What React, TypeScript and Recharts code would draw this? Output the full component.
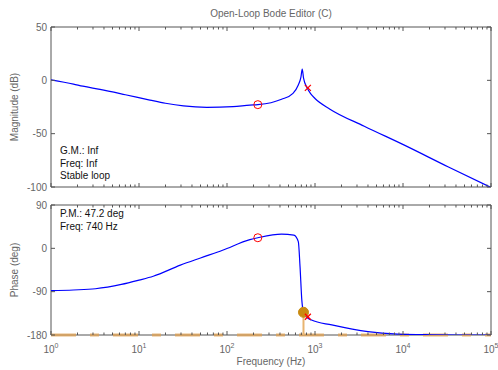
import React from "react"
import { LineChart, Line, XAxis, YAxis, ReferenceDot, ReferenceLine, ReferenceArea } from "recharts"

// magnitude curve (Hz, dB)
const magFreqs = [1, 1.8, 2.3, 3.6, 7, 13.3, 20, 32, 59, 117, 182, 224, 316, 417, 562, 646, 692, 716, 741, 813, 891, 1000, 1480, 3630, 10500, 32400, 100000]
const magDb = [0.5, -3.5, -5.5, -8.5, -13.5, -18.5, -21.5, -24, -25.3, -24.7, -23.2, -22.8, -21, -17.8, -12.2, -4.4, 3, 10.6, 2, -7, -12.5, -17, -27, -43, -61, -81, -100.5]

// phase curve (Hz, deg)
const phaseFreqs = [1, 1.8, 3.2, 6.3, 10, 14.5, 29.5, 50, 89, 182, 224, 417, 575, 646, 676, 708, 740, 794, 912, 1550, 4000, 8700, 21000, 45700, 100000]
const phaseDeg = [-88, -86.5, -84, -75, -66, -58, -35, -20, -4, 18, 22, 29.7, 27.6, 14, -38, -107, -132.8, -142, -149, -159, -173, -178, -179.5, -180, -180]

// compensator zero / pole markers
const zeroMark = { freq: 224, mag: -22.8, phase: 22 }
const poleMark = { freq: 830, mag: -7, phase: -142 }
// phase margin marker
const pmMark = { freq: 740, phase: -132.8 }

const freqTicks = [1, 10, 100, 1000, 10000, 100000]
const minorTicks = freqTicks.slice(0, -1).flatMap((d) => [2, 3, 4, 5, 6, 7, 8, 9].map((m) => d * m))
const allFreqTicks = [...freqTicks, ...minorTicks].sort((a, b) => a - b)
const magTicks = [-100, -50, 0, 50]
const phaseTicks = [-180, -90, 0, 90]

const magData = magFreqs.map((f, i) => ({ f, v: magDb[i] }))
const phaseData = phaseFreqs.map((f, i) => ({ f, v: phaseDeg[i] }))

const W = 498
const H = 370
const L = 51
const R = 491
const FONT = "'Liberation Sans', Arial, sans-serif"
const AX = "#555"
const GRAY = "#666"

const makeXTick = (top: number, bottom: number, labels: boolean) => (props: any) => {
  const { x, payload } = props
  const v = payload.value
  const exp = Math.round(Math.log10(v))
  const major = Math.abs(Math.pow(10, exp) - v) < 1e-6
  const len = major ? 4 : 2.5
  return (
    <g>
      <line x1={x} x2={x} y1={bottom} y2={bottom - len} stroke={AX} />
      <line x1={x} x2={x} y1={top} y2={top + len} stroke={AX} />
      {labels && major && (
        <text x={x} y={bottom + 18} textAnchor="middle" fontSize={10} fill={GRAY} fontFamily={FONT}>
          10<tspan dy={-5} fontSize={7}>{exp}</tspan>
        </text>
      )}
    </g>
  )
}

const yTick = (props: any) => {
  const { y, payload } = props
  return (
    <g>
      <line x1={L} x2={L + 4} y1={y} y2={y} stroke={AX} />
      <line x1={R} x2={R - 4} y1={y} y2={y} stroke={AX} />
      <text x={L - 4} y={y + 3.5} textAnchor="end" fontSize={10} fill={GRAY} fontFamily={FONT}>
        {payload.value}
      </text>
    </g>
  )
}

const circleShape = (p: any) => <circle cx={p.cx} cy={p.cy} r={4} fill="none" stroke="#ff0000" strokeWidth={1} />
const crossShape = (p: any) => (
  <g stroke="#ff0000" strokeWidth={1.2}>
    <line x1={p.cx - 3} y1={p.cy - 3} x2={p.cx + 3} y2={p.cy + 3} />
    <line x1={p.cx - 3} y1={p.cy + 3} x2={p.cx + 3} y2={p.cy - 3} />
  </g>
)

export default function App() {
  const magTop = 27
  const magBottom = 187
  const phTop = 205
  const phBottom = 335
  return (
    <div style={{ position: "absolute", left: 0, top: 0, width: W, height: H, background: "#fff" }}>
      <div style={{ position: "absolute", left: 0, top: 0 }}>
        <LineChart width={W} height={H} data={magData} margin={{ top: magTop, right: W - R, bottom: H - magBottom - 10, left: L - 10 }}>
          <XAxis dataKey="f" type="number" scale="log" domain={[1, 100000]} allowDataOverflow ticks={allFreqTicks} interval={0}
            height={10} tickSize={0} tickMargin={0} tickLine={false} axisLine={false} tick={makeXTick(magTop, magBottom, false)} />
          <YAxis type="number" domain={[-100, 50]} ticks={magTicks} interval={0} allowDataOverflow width={10} tickSize={0} tickMargin={0}
            tickLine={false} axisLine={false} tick={yTick} />
          <ReferenceArea x1={1} x2={100000} y1={-100} y2={50} fill="none" stroke={AX} strokeWidth={1} />
          <Line type="monotone" dataKey="v" stroke="#0000ff" strokeWidth={1.2} dot={false} isAnimationActive={false} />
          <ReferenceDot x={zeroMark.freq} y={zeroMark.mag} shape={circleShape} />
          <ReferenceDot x={poleMark.freq} y={poleMark.mag} shape={crossShape} />
        </LineChart>
      </div>
      <div style={{ position: "absolute", left: 0, top: 0 }}>
        <LineChart width={W} height={H} data={phaseData} margin={{ top: phTop, right: W - R, bottom: H - phBottom - 10, left: L - 10 }}>
          <XAxis dataKey="f" type="number" scale="log" domain={[1, 100000]} allowDataOverflow ticks={allFreqTicks} interval={0}
            height={10} tickSize={0} tickMargin={0} tickLine={false} axisLine={false} tick={makeXTick(phTop, phBottom, true)} />
          <YAxis type="number" domain={[-180, 90]} ticks={phaseTicks} interval={0} allowDataOverflow width={10} tickSize={0} tickMargin={0}
            tickLine={false} axisLine={false} tick={yTick} />
          <ReferenceArea x1={1} x2={100000} y1={-180} y2={90} fill="none" stroke={AX} strokeWidth={1} />
          <ReferenceLine y={-180} stroke="#e0a050" strokeOpacity={0.75} strokeWidth={3} strokeDasharray="25 14 9 14" />
          <ReferenceLine segment={[{ x: pmMark.freq, y: -180 }, { x: pmMark.freq, y: pmMark.phase }]} stroke="#e8b470" strokeWidth={2} />
          <Line type="monotone" dataKey="v" stroke="#0000ff" strokeWidth={1.2} dot={false} isAnimationActive={false} />
          <ReferenceDot x={pmMark.freq} y={pmMark.phase} r={5} fill="#c98a10" stroke="#c98a10" />
          <ReferenceDot x={zeroMark.freq} y={zeroMark.phase} shape={circleShape} />
          <ReferenceDot x={poleMark.freq} y={poleMark.phase} shape={crossShape} />
        </LineChart>
      </div>
      <svg width={W} height={H} style={{ position: "absolute", left: 0, top: 0, pointerEvents: "none" }} fontFamily={FONT}>
        <text x={271} y={17} textAnchor="middle" fontSize={10} fill={GRAY}>Open-Loop Bode Editor (C)</text>
        <text x={18} y={107} textAnchor="middle" fontSize={10} fill={GRAY} transform="rotate(-90 18 107)">Magnitude (dB)</text>
        <text x={18} y={270} textAnchor="middle" fontSize={10} fill={GRAY} transform="rotate(-90 18 270)">Phase (deg)</text>
        <text x={271} y={365} textAnchor="middle" fontSize={10} fill={GRAY}>Frequency (Hz)</text>
        <text x={60} y={154} fontSize={10} fill="#111">G.M.: Inf</text>
        <text x={60} y={166.5} fontSize={10} fill="#111">Freq: Inf</text>
        <text x={60} y={179} fontSize={10} fill="#111">Stable loop</text>
        <text x={60} y={217} fontSize={10} fill="#111">P.M.: 47.2 deg</text>
        <text x={60} y={229.5} fontSize={10} fill="#111">Freq: 740 Hz</text>
      </svg>
    </div>
  )
}
